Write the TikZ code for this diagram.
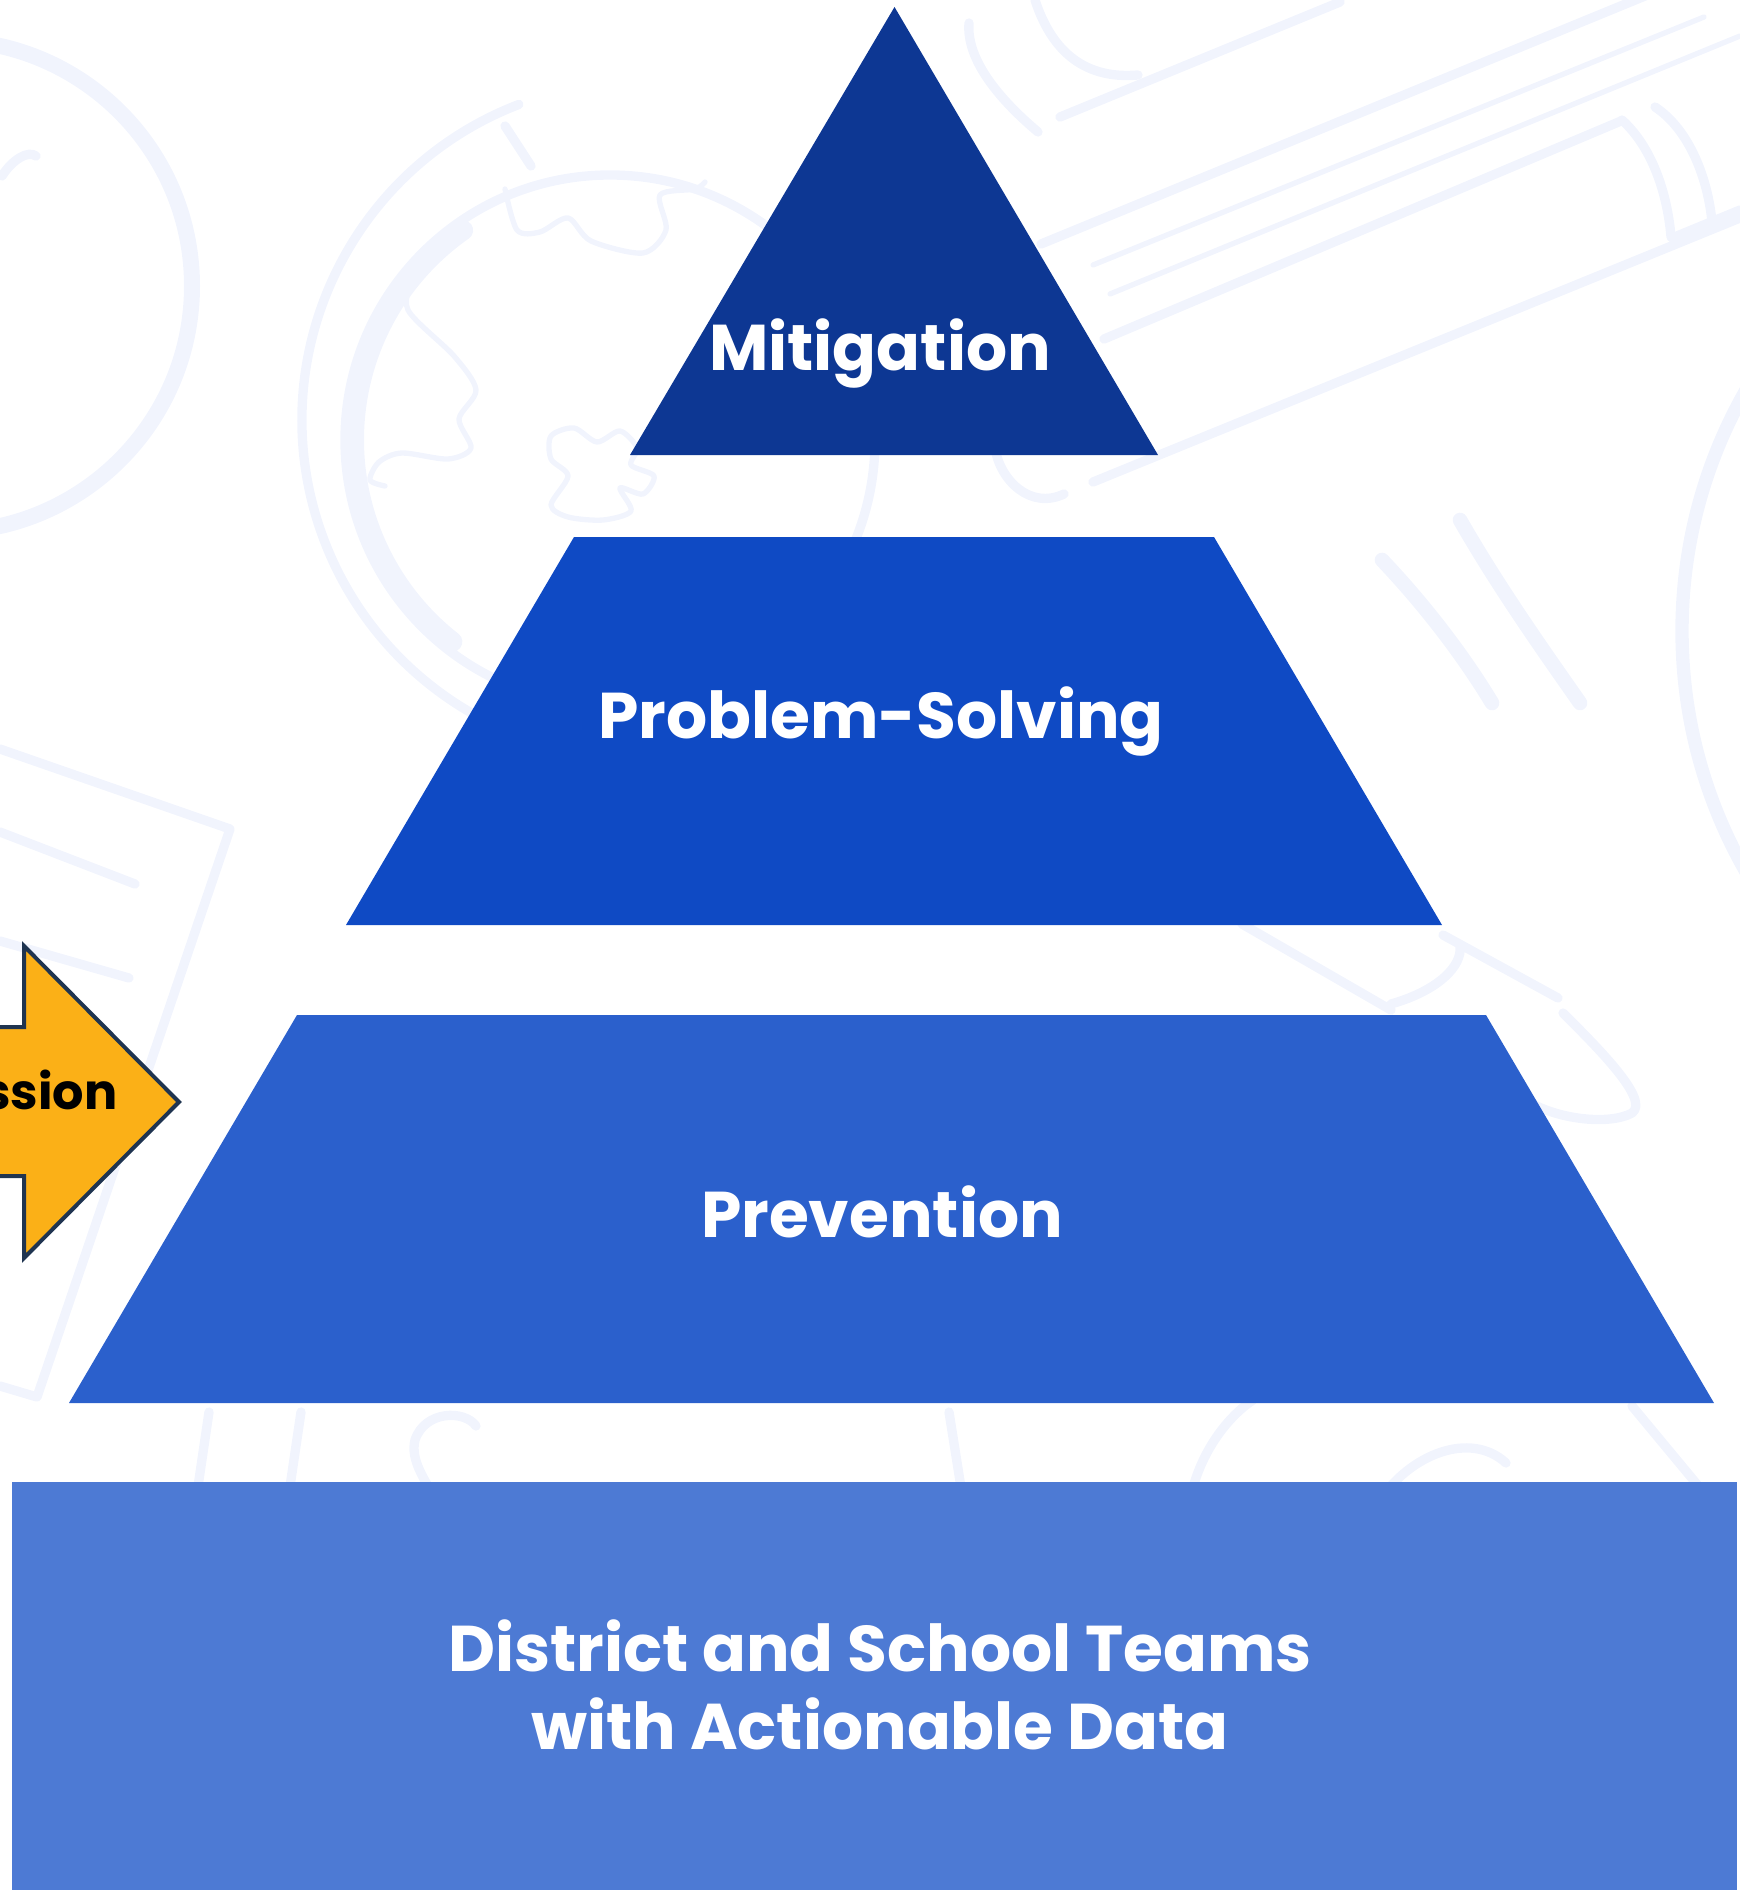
\documentclass[tikz,border=0pt]{standalone}
\usepackage{fontspec}
\setmainfont{Poppins}

\definecolor{mitigblue}{RGB}{13,55,147}
\definecolor{solveblue}{RGB}{15,74,196}
\definecolor{prevblue}{RGB}{43,96,204}
\definecolor{baseblue}{RGB}{77,122,212}
\definecolor{doodleblue}{RGB}{241,244,253}
\definecolor{arrowgold}{RGB}{251,176,23}
\definecolor{arrowline}{RGB}{31,52,80}

\tikzset{every picture/.style={line width=0.75pt}}

\begin{document}
\begin{tikzpicture}[x=0.75pt,y=0.75pt,yscale=-1,xscale=1,
  doodle/.style={draw=doodleblue, line cap=round, line join=round, line width=7pt},
  thindoodle/.style={doodle, line width=4pt},
  lvltext/.style={text=white, font=\fontsize{48.5}{58.5}\selectfont\bfseries, align=center}]
\useasboundingbox (0,0) rectangle (1740,1890);
\clip (0,0) rectangle (1740,1890);

%Background: clock circle, left
\draw [doodle, line width=12pt] (-54,286) circle (246);
\draw [doodle] (2,176) .. controls (12,160) and (28,150) .. (36,156);
%Background: globe stand
\draw [doodle] (640,420) ++(249:338) arc [start angle=249, end angle=100, radius=338];
\draw [doodle] (505,126) -- (531,166);
%Background: globe
\draw [doodle] (610,440) circle (265);
\draw [doodle, line width=15pt] (610,440) ++(235:256) arc [start angle=235, end angle=128, radius=256];
\draw [thindoodle] plot [smooth] coordinates {(505,189) (517,230) (540,232) (568,218) (591,241) (643,253) (666,230) (660,195) (695,189) (705,182)};
\draw [thindoodle] plot [smooth] coordinates {(413,276) (408,310) (454,356) (476,390) (459,419) (471,448) (448,459) (402,453) (379,462) (370,480) (385,486)};
\draw [thindoodle] plot [smooth cycle] coordinates {(551,436) (574,428) (597,442) (620,431) (637,448) (631,465) (654,476) (643,494) (620,488) (631,511) (603,520) (568,517) (551,505) (568,476) (551,459)};
%Background: pencil, top right
\draw [doodle] (1060,117) -- (1340,2);
\draw [doodle] (1041,244) -- (1740,-43);
\draw [thindoodle] (1093,265) -- (1704,17);
\draw [thindoodle] (1110,294) -- (1740,36);
\draw [doodle] (1104,339) -- (1621,121);
\draw [doodle] (1672,238) -- (1740,210);
\draw [doodle] (1093,482) -- (1740,218);
\draw [doodle] (1622,120) .. controls (1655,150) and (1668,200) .. (1671,237);
\draw [doodle] (1655,107) .. controls (1690,130) and (1708,180) .. (1712,222);
\draw [doodle] (969,23) .. controls (966,60) and (1000,100) .. (1038,132);
\draw [doodle] (1035,0) .. controls (1050,46) and (1080,80) .. (1138,75);
\draw [doodle] (995,448) .. controls (1000,480) and (1030,510) .. (1064,494);
%Background: strokes and arc, right
\draw [doodle, line width=10pt] (2167,631) circle (485);
\draw [doodle, line width=11pt] (1460,520) .. controls (1500,590) and (1550,660) .. (1580,703);
\draw [doodle, line width=11pt] (1382,560) .. controls (1420,600) and (1460,650) .. (1492,703);
\draw [doodle] (1242,924) -- (1391,1010);
\draw [doodle] (1443,935) -- (1558,998);
\draw [doodle] (1563,1013) .. controls (1600,1050) and (1650,1100) .. (1632,1113) .. controls (1610,1125) and (1560,1120) .. (1529,1102);
\draw [doodle] (1460,947) .. controls (1462,965) and (1440,990) .. (1391,1004);
%Background: notebook, bottom left
\draw [doodle] (0,749) -- (230,829) -- (37,1397) -- (0,1386);
\draw [doodle] (0,832) -- (135,884);
\draw [doodle] (0,941) -- (129,978);
%Background: marks behind the base
\draw [doodle] (209,1412) -- (196,1500);
\draw [doodle] (301,1412) -- (288,1500);
\draw [doodle] (476,1426) .. controls (465,1410) and (425,1410) .. (415,1440) .. controls (410,1460) and (425,1480) .. (436,1500);
\draw [doodle] (949,1412) -- (963,1500);
\draw [doodle] (1190,1500) .. controls (1200,1450) and (1230,1415) .. (1253,1400);
\draw [doodle] (1380,1500) .. controls (1410,1455) and (1470,1430) .. (1506,1463);
\draw [doodle] (1632,1406) -- (1710,1500);

%Shape: Triangle [Mitigation]
\fill [mitigblue] (894.5,7) -- (1158,455) -- (630,455) -- cycle ;
%Shape: Trapezoid [Problem-Solving]
\fill [solveblue] (574,537) -- (1214,537) -- (1442,925) -- (346,925) -- cycle ;
%Shape: Trapezoid [Prevention]
\fill [prevblue] (297,1015) -- (1486,1015) -- (1714,1403) -- (69,1403) -- cycle ;
%Shape: Rectangle [base]
\fill [baseblue] (12,1482) -- (1737,1482) -- (1737,1890) -- (12,1890) -- cycle ;

%Shape: Right Arrow
\draw [draw=arrowline, fill=arrowgold, line width=3pt, line join=miter] (-400,1027) -- (24,1027) -- (24,946) -- (179,1102) -- (24,1258) -- (24,1176) -- (-400,1176) -- cycle ;

% Text Node
\node [lvltext, anchor=base] (mitig) at (880,370) {Mitigation};
% Text Node
\node [lvltext, anchor=base] (solve) at (881,738) {Problem-Solving};
% Text Node
\node [lvltext, anchor=base] (prev) at (882,1237) {Prevention};
% Text Node
\node [lvltext, anchor=base] (teams) at (880,1749) {District and School Teams\\with Actionable Data};
% Text Node
\node [anchor=base east, inner sep=0pt, text=black, font=\fontsize{37}{44}\selectfont\bfseries] (arrowtext) at (118,1109) {ssion};

\end{tikzpicture}
\end{document}
